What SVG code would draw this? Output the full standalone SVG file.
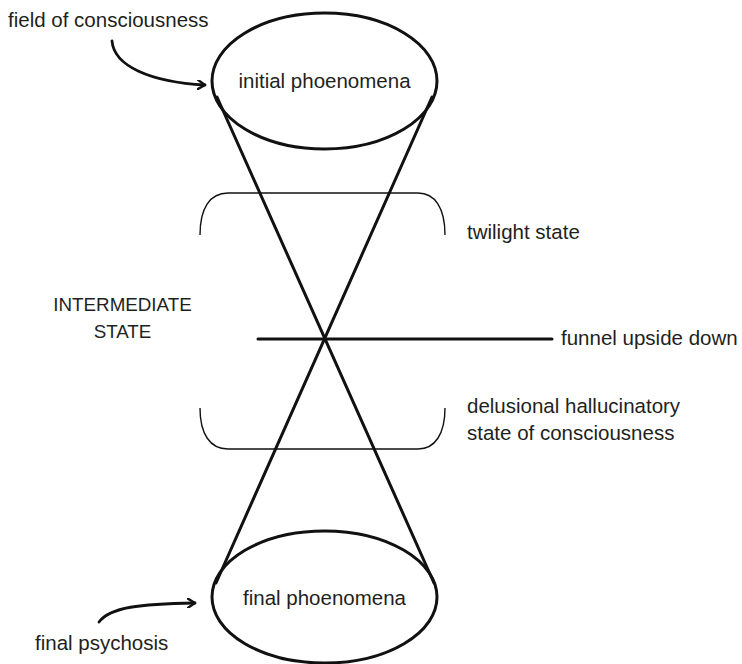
<svg xmlns="http://www.w3.org/2000/svg" width="742" height="664" viewBox="0 0 742 664">
  <defs>
    <style>
      .lbl { font-family: "Liberation Sans", Arial, sans-serif; font-size: 20.5px; fill: #231f20; }
      .caps { font-family: "Liberation Sans", Arial, sans-serif; font-size: 18.8px; fill: #231f20; }
      .node { fill: none; stroke: #111111; stroke-width: 3; }
      .thick { fill: none; stroke: #111111; stroke-width: 3; stroke-linecap: round; }
      .thin { fill: none; stroke: #111111; stroke-width: 1.4; }
      .arrow { fill: none; stroke: #111111; stroke-width: 2.8; stroke-linecap: round; marker-end: url(#chev); }
    </style>
    <marker id="chev" viewBox="0 0 10 10" refX="8" refY="5" markerWidth="10" markerHeight="10" markerUnits="userSpaceOnUse" orient="auto">
      <path d="M1,0.5 L8,5 L1,9.5" fill="none" stroke="#111111" stroke-width="2.4" stroke-linecap="round" stroke-linejoin="round"/>
    </marker>
  </defs>

  <rect x="0" y="0" width="742" height="664" fill="#ffffff"/>

  <g id="connectors">
    <line class="thick" x1="217" y1="97" x2="434" y2="583"/>
    <line class="thick" x1="432" y1="97" x2="216" y2="583"/>
    <line class="thick" x1="258" y1="339" x2="552" y2="339"/>
    <path class="arrow" d="M112,41 C114,66 150,82 205,85"/>
    <path class="arrow" d="M99,622 C110,607 140,604 195,603"/>
  </g>

  <g id="bracket-twilight">
    <path class="thin" d="M200,235 C200,208 210,193 228,193 L418,193 C435,193 445,208 445,235"/>
  </g>
  <g id="bracket-delusional">
    <path class="thin" d="M200,408 C200,434 210,449 228,449 L418,449 C435,449 445,434 445,408"/>
  </g>

  <g id="node-initial">
    <ellipse class="node" cx="324.5" cy="81" rx="112.5" ry="68"/>
    <text class="lbl" x="324.5" y="88" text-anchor="middle">initial phoenomena</text>
  </g>

  <g id="node-final">
    <ellipse class="node" cx="324.5" cy="597" rx="112.5" ry="66"/>
    <text class="lbl" x="324.5" y="605" text-anchor="middle">final phoenomena</text>
  </g>

  <g id="label-field">
    <text class="lbl" x="8" y="27">field of consciousness</text>
  </g>
  <g id="label-twilight">
    <text class="lbl" x="467" y="239">twilight state</text>
  </g>
  <g id="label-intermediate">
    <text class="caps" x="122.5" y="311" text-anchor="middle">INTERMEDIATE</text>
    <text class="caps" x="122.5" y="338" text-anchor="middle">STATE</text>
  </g>
  <g id="label-funnel">
    <text class="lbl" x="561" y="345">funnel upside down</text>
  </g>
  <g id="label-delusional">
    <text class="lbl" x="467" y="413">delusional hallucinatory</text>
    <text class="lbl" x="467" y="440">state of consciousness</text>
  </g>
  <g id="label-psychosis">
    <text class="lbl" x="35" y="650">final psychosis</text>
  </g>
</svg>
